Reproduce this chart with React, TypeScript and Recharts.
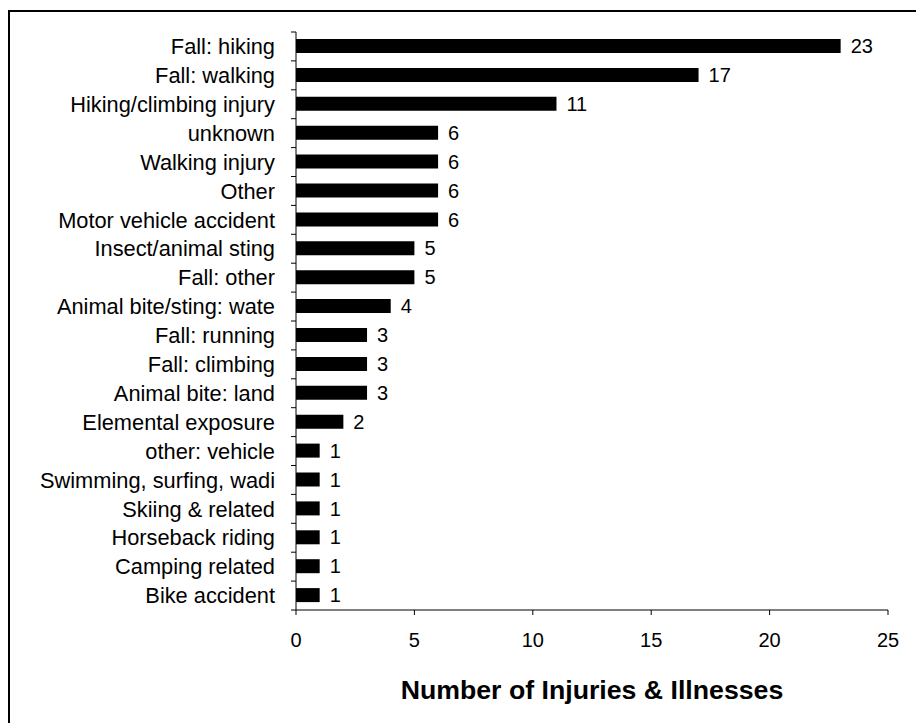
import React from "react";
import { BarChart, Bar, XAxis, YAxis, LabelList } from "recharts";

const CATEGORIES = [
  "Fall: hiking",
  "Fall: walking",
  "Hiking/climbing injury",
  "unknown",
  "Walking injury",
  "Other",
  "Motor vehicle accident",
  "Insect/animal sting",
  "Fall: other",
  "Animal bite/sting: wate",
  "Fall: running",
  "Fall: climbing",
  "Animal bite: land",
  "Elemental exposure",
  "other: vehicle",
  "Swimming, surfing, wadi",
  "Skiing & related",
  "Horseback riding",
  "Camping related",
  "Bike accident",
];

const COUNTS = [23, 17, 11, 6, 6, 6, 6, 5, 5, 4, 3, 3, 3, 2, 1, 1, 1, 1, 1, 1];

const X_TICKS = [0, 5, 10, 15, 20, 25];

const AXIS_TITLE = "Number of Injuries & Illnesses";

const FONT = "'Liberation Sans', Arial, Helvetica, sans-serif";

const CHART_W = 906;
const CHART_H = 711;
const MARGIN = { top: 20, right: 28, bottom: 0, left: 0 };
const PLOT_H = 578;
const BAND = PLOT_H / CATEGORIES.length;

const data = CATEGORIES.map((name, i) => ({ name, count: COUNTS[i] }));

// Excel style category tick: tick marks sit on band edges, label centred in band
function CategoryTick(props: any) {
  const { x, y, payload, index } = props;
  const top = y - BAND / 2;
  const last = index === CATEGORIES.length - 1;
  return (
    <g>
      <line x1={x - 5} x2={x} y1={top} y2={top} stroke="#000" />
      {last && <line x1={x - 5} x2={x} y1={y + BAND / 2} y2={y + BAND / 2} stroke="#000" />}
      <text
        x={x - 21}
        y={y}
        dy="0.355em"
        textAnchor="end"
        fontSize={21.8}
        fontFamily={FONT}
        fill="#000"
      >
        {payload.value}
      </text>
    </g>
  );
}

export default function App() {
  return (
    <div
      style={{
        position: "absolute",
        left: 8,
        top: 10,
        width: 908,
        height: 713,
        boxSizing: "border-box",
        borderTop: "2px solid #000",
        borderLeft: "2px solid #000",
        overflow: "hidden",
        background: "#fff",
      }}
    >
      <BarChart
        width={CHART_W}
        height={CHART_H}
        data={data}
        layout="vertical"
        margin={MARGIN}
        barSize={14}
      >
        <XAxis
          type="number"
          domain={[0, 25]}
          ticks={X_TICKS}
          interval={0}
          tickSize={5}
          tickMargin={18}
          height={113}
          stroke="#000"
          tick={{ fontSize: 20, fontFamily: FONT, fill: "#000" }}
          label={{
            value: AXIS_TITLE,
            position: "insideBottom",
            offset: 24,
            fontSize: 26.7,
            fontWeight: "bold",
            fontFamily: FONT,
            fill: "#000",
          }}
        />
        <YAxis
          type="category"
          dataKey="name"
          width={286}
          interval={0}
          tickSize={0}
          tickMargin={0}
          tickLine={false}
          stroke="#000"
          tick={<CategoryTick />}
        />
        <Bar dataKey="count" fill="#000" isAnimationActive={false}>
          <LabelList
            dataKey="count"
            position="right"
            offset={10}
            fontSize={20}
            fontFamily={FONT}
            fill="#000"
          />
        </Bar>
      </BarChart>
    </div>
  );
}
